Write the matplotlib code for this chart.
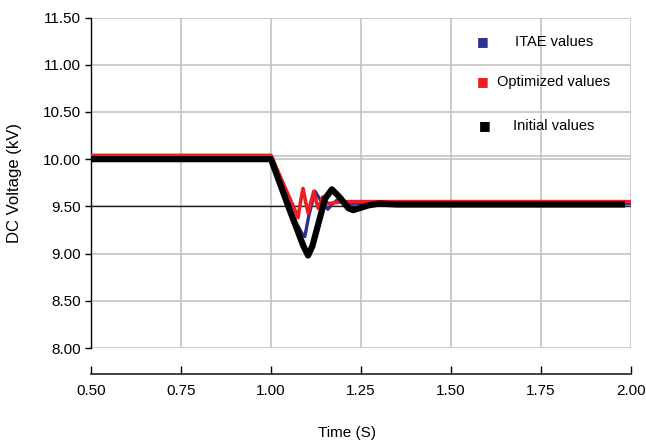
import matplotlib
matplotlib.use("Agg")
import matplotlib.pyplot as plt

FONT = "Liberation Sans"

# ---- data ----
t_initial = [0.50, 1.00, 1.05, 1.09, 1.103, 1.115, 1.15, 1.169, 1.19, 1.215, 1.228, 1.245, 1.27, 1.30, 1.35, 1.975]
v_initial = [10.00, 10.00, 9.48, 9.08, 8.98, 9.08, 9.58, 9.68, 9.60, 9.48, 9.46, 9.48, 9.51, 9.53, 9.52, 9.52]

t_itae = [0.50, 1.00, 1.06, 1.085, 1.094, 1.105, 1.122, 1.14, 1.158, 1.172, 1.185, 1.21, 1.25, 2.00]
v_itae = [10.02, 10.02, 9.40, 9.22, 9.18, 9.40, 9.66, 9.55, 9.47, 9.53, 9.57, 9.52, 9.53, 9.53]

t_opt = [0.50, 1.00, 1.07, 1.075, 1.082, 1.089, 1.096, 1.103, 1.111, 1.119, 1.125, 1.131, 1.138, 1.144, 1.152, 1.16, 1.20, 2.00]
v_opt = [10.04, 10.04, 9.43, 9.38, 9.55, 9.69, 9.55, 9.43, 9.55, 9.66, 9.56, 9.48, 9.54, 9.60, 9.55, 9.53, 9.55, 9.55]

series_labels = ["ITAE values", "Optimized values", "Initial values"]
x_ticks = [0.50, 0.75, 1.00, 1.25, 1.50, 1.75, 2.00]
y_ticks = [8.00, 8.50, 9.00, 9.50, 10.00, 10.50, 11.00, 11.50]

fig = plt.figure(figsize=(6.46, 4.46), dpi=100)
ax = fig.add_axes([91/646, 1-348/446, 540/646, 330.5/446])

for s in ["top", "right"]:
    ax.spines[s].set_visible(False)
ax.spines["left"].set_color("black")
ax.spines["left"].set_linewidth(1.0)
ax.spines["bottom"].set_position(("outward", 19))
ax.spines["bottom"].set_color("#222222")
ax.spines["bottom"].set_linewidth(1.2)

ax.set_xlim(0.5, 2.0)
ax.set_ylim(8.0, 11.5)
ax.set_xticks(x_ticks)
ax.set_yticks(y_ticks)
ax.set_xticklabels([f"{v:.2f}" for v in x_ticks], family=FONT, fontsize=11)
ax.set_yticklabels([f"{v:.2f}" for v in y_ticks], family=FONT, fontsize=11)
ax.tick_params(axis="y", direction="out", length=4, width=1, pad=3)
ax.tick_params(axis="x", direction="in", length=6, width=1, pad=7)

ax.grid(True, color="#c4c4c4", lw=1.2)
ax.set_axisbelow(True)
ax.axhline(10.03, color="#c4c4c4", lw=1.2, zorder=0.5)
ax.axhline(9.5, color="#222222", lw=1.0, zorder=1)

ax.plot(t_opt, v_opt, color="#ee1c24", lw=2.6, zorder=4, solid_joinstyle="round")
ax.plot(t_itae, v_itae, color="#2e3192", lw=2.4, zorder=3.5, solid_joinstyle="round")
ax.plot(t_initial, v_initial, color="black", lw=4.5, zorder=5, solid_joinstyle="round")

ax.set_ylabel("DC Voltage (kV)", family=FONT, fontsize=12, va="center")
ax.yaxis.set_label_coords(-(91-15)/540, 0.5)
ax.set_xlabel("Time (S)", family=FONT, fontsize=11, va="center")
ax.xaxis.set_label_coords((347-91)/540, -(433-348)/330.5)

# legend drawn manually
leg_colors = ["#2e3192", "#ee1c24", "black"]
leg_y = [42, 82, 126]
leg_mx = [483, 483, 485]
for lab, c, y, mx in zip(series_labels, leg_colors, leg_y, leg_mx):
    fig.text(mx/646, 1-y/446, "\u25A0", color=c, fontsize=9, ha="center", va="center",
             family="DejaVu Sans")
    fig.text(554/646, 1-y/446, lab, fontsize=10.5, family=FONT, ha="center", va="center")

fig.savefig("out.png", dpi=100)
